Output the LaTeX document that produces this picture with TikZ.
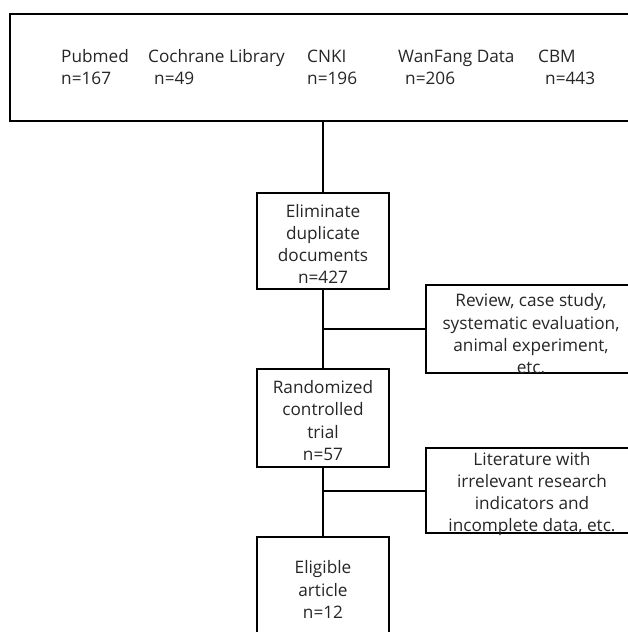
\documentclass[tikz,border=0pt]{standalone}
\usepackage{fontspec}
\setmainfont{Open Sans}
\definecolor{txt}{HTML}{262626}
\tikzset{
  boxline/.style={draw=black, line width=2pt},
  mainbox/.style={boxline, minimum width=132pt, inner sep=0pt},
  sidebox/.style={boxline, minimum width=210pt, inner sep=0pt},
  boxtext/.style={align=center, inner sep=0pt, text=txt, font=\fontsize{17.2}{22.3}\selectfont},
  dbtext/.style={anchor=base west, inner sep=0pt, text=txt, font=\fontsize{17.2}{22}\selectfont},
  link/.style={draw=black, line width=2pt}
}
\begin{document}
\begin{tikzpicture}[x=1pt,y=-1pt]
\useasboundingbox (0,0) rectangle (628,632);
\clip (0,0) rectangle (628,632);
\fill[white] (0,0) rectangle (628,632);
% top box
\node[boxline, minimum width=630pt, minimum height=107pt, inner sep=0pt] (top) at (325,67.5) {};
\node[dbtext] (pub) at (61,62) {Pubmed};
\node[dbtext] (pubn) at (61,84) {n=167};
\node[dbtext] (coc) at (148,62) {Cochrane Library};
\node[dbtext] (cocn) at (154,84) {n=49};
\node[dbtext] (cnki) at (307,62) {CNKI};
\node[dbtext] (cnkin) at (307,84) {n=196};
\node[dbtext] (wf) at (398,62) {WanFang Data};
\node[dbtext] (wfn) at (405,84) {n=206};
\node[dbtext] (cbm) at (538,62) {CBM};
\node[dbtext] (cbmn) at (545,84) {n=443};
% main boxes
\node[mainbox, minimum height=96pt] (elim) at (323,241) {};
\node[boxtext] at (323,244) {Eliminate\\duplicate\\documents\\n=427};
\node[mainbox, minimum height=98pt] (rct) at (323,418) {};
\node[boxtext] at (323,420.5) {Randomized\\controlled\\trial\\n=57};
\node[mainbox, minimum height=104pt] (elig) at (323,589) {};
\node[boxtext] at (323,589.5) {Eligible\\article\\n=12};
% side boxes
\node[sidebox, minimum height=88pt] (ex1) at (531,329) {};
\node[boxtext] at (531,334) {Review, case study,\\systematic evaluation,\\animal experiment,\\etc.};
\node[sidebox, minimum height=85pt] (ex2) at (531,490.5) {};
\node[boxtext] at (532,494) {Literature with\\irrelevant research\\indicators and\\incomplete data, etc.};
% connectors
\draw[link] (top.south -| elim.north) -- (elim.north);
\draw[link] (elim.south) -- (rct.north);
\draw[link] (rct.south) -- (elig.north);
\coordinate (j1) at (elim.south |- ex1.west);
\coordinate (j2) at (rct.south |- ex2.west);
\draw[link] (j1) -- (ex1.west);
\draw[link] (j2) -- (ex2.west);
\end{tikzpicture}
\end{document}
